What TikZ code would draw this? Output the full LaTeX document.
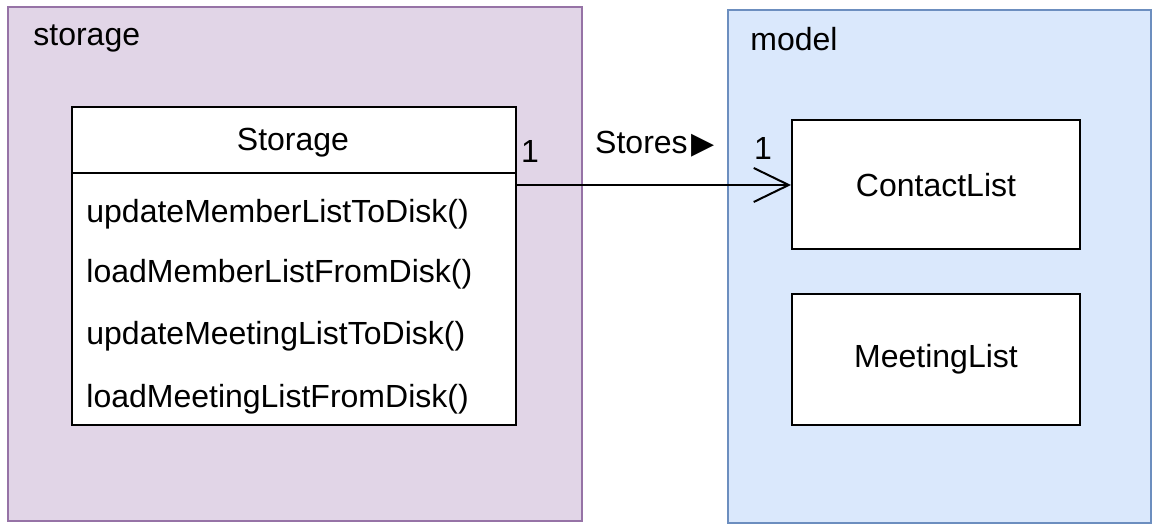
\documentclass[tikz,border=0pt]{standalone}
\usepackage{fontspec}
\setmainfont{Liberation Sans}
\newfontfamily\symfont{DejaVu Sans}
\usepackage{tikz}
\usetikzlibrary{arrows.meta,positioning}
\definecolor{storefill}{HTML}{E1D5E7}
\definecolor{storeline}{HTML}{9673A6}
\definecolor{modelfill}{HTML}{DAE8FC}
\definecolor{modelline}{HTML}{6C8EBF}

\begin{document}
\begin{tikzpicture}[
  x=0.5pt, y=-0.5pt,
  font=\fontsize{16}{19}\selectfont,
  pkg/.style={draw, line width=1pt, anchor=north west, inner sep=0pt},
  cls/.style={draw, fill=white, line width=1pt, inner sep=0pt},
  txt/.style={inner sep=0pt},
  meth/.style={anchor=west, inner sep=0pt},
  assoc/.style={-{Straight Barb[length=17.5pt, width=17pt]}, line width=1pt}
]
\useasboundingbox (0,0) rectangle (1156,528);
\node[pkg, fill=storefill, draw=storeline, minimum width=287pt, minimum height=257pt] (sp) at (7,6) {};
\node[pkg, fill=modelfill, draw=modelline, minimum width=211.5pt, minimum height=256.5pt] (mp) at (727,9) {};
\node[txt, anchor=west] (spl) at (33,38) {storage};
\node[txt, anchor=west] (mpl) at (750,39) {model};
\node[cls, anchor=north west, minimum width=222pt, minimum height=159pt] (st) at (71,106) {};
\draw[line width=1pt] ([yshift=-33.5pt]st.north west) -- ([yshift=-33.5pt]st.north east);
\node[txt] (sth) at (293,143) {Storage};
\node[meth] (m1) at (86,214) {updateMemberListToDisk()};
\node[meth] (m2) at (86,274) {loadMemberListFromDisk()};
\node[meth] (m3) at (86,336) {updateMeetingListToDisk()};
\node[meth] (m4) at (86,399) {loadMeetingListFromDisk()};
\node[cls, minimum width=144pt, minimum height=64.5pt] (cl) at (936,185) {ContactList};
\node[cls, minimum width=144pt, minimum height=65.5pt] (ml) at (936,359.5) {MeetingList};
\draw[assoc] (st.east |- cl.west) -- (cl.west);
\node[txt] (n1) at (530,151) {1};
\node[txt] (lbl) at (655,144) {Stores\hspace{2pt}{\symfont\fontsize{15}{17}\selectfont ▶}};
\node[txt] (n2) at (763,148) {1};
\end{tikzpicture}
\end{document}
